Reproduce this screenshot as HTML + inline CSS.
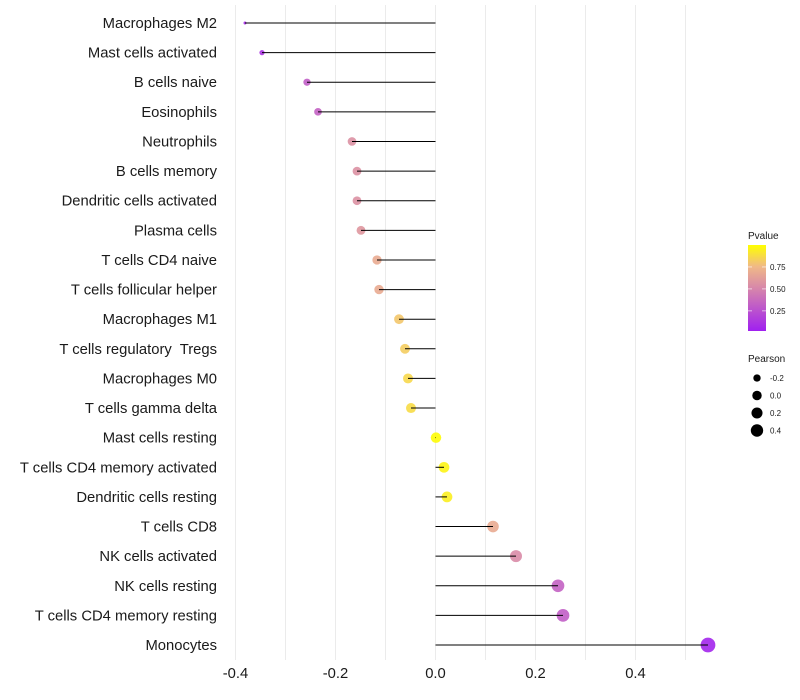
<!DOCTYPE html>
<html><head><meta charset="utf-8"><style>
html,body{margin:0;padding:0;background:#fff;}
svg{display:block;font-family:"Liberation Sans",Arial,sans-serif;}
</style></head><body>
<svg id="chart" width="800" height="700">
<g id="grid"></g>
<g id="marks"></g>
<g id="ylabels"></g>
<g id="xlabels"></g>
<g id="legend"></g>
</svg>
<script>
const categories = ["Macrophages M2","Mast cells activated","B cells naive","Eosinophils","Neutrophils","B cells memory","Dendritic cells activated","Plasma cells","T cells CD4 naive","T cells follicular helper","Macrophages M1","T cells regulatory  Tregs","Macrophages M0","T cells gamma delta","Mast cells resting","T cells CD4 memory activated","Dendritic cells resting","T cells CD8","NK cells activated","NK cells resting","T cells CD4 memory resting","Monocytes"];
const pearson = [-0.381,-0.347,-0.257,-0.235,-0.167,-0.157,-0.157,-0.149,-0.117,-0.113,-0.073,-0.061,-0.055,-0.049,0.001,0.017,0.023,0.115,0.161,0.245,0.255,0.545];
const pvalue = [0.05,0.1,0.3,0.32,0.55,0.55,0.55,0.58,0.68,0.68,0.8,0.82,0.86,0.87,0.99,0.96,0.94,0.68,0.52,0.32,0.3,0.03];
const xTicks = [-0.4,-0.2,0.0,0.2,0.4];
const xTickLabels = ["-0.4","-0.2","0.0","0.2","0.4"];
const gridVals = [-0.4,-0.3,-0.2,-0.1,0,0.1,0.2,0.3,0.4,0.5];
const legendP = [0.25,0.5,0.75];
const legendSizes = [-0.2,0.0,0.2,0.4];

const NS="http://www.w3.org/2000/svg";
const x = v => 435.5 + v*500;
const y = i => 23 + i*(622/21);
const rad = v => 1.5 + 6.1*Math.sqrt(Math.max(0, v+0.38));
const stops=[[0,[160,32,240]],[0.5,[215,135,170]],[0.75,[240,185,135]],[1,[255,255,0]]];
function col(p){for(let k=1;k<stops.length;k++){if(p<=stops[k][0]||k==stops.length-1){const [p0,a]=stops[k-1],[p1,b]=stops[k];const t=Math.min(1,Math.max(0,(p-p0)/(p1-p0)));return `rgb(${a.map((c,j)=>Math.round(c+(b[j]-c)*t)).join(",")})`;}}}
function mk(t,attrs,parent){const e=document.createElementNS(NS,t);for(const k in attrs)e.setAttribute(k,attrs[k]);parent.appendChild(e);return e;}
const grid=document.getElementById('grid'),marks=document.getElementById('marks'),yl=document.getElementById('ylabels'),xl=document.getElementById('xlabels'),lg=document.getElementById('legend');
gridVals.forEach(v=>{const l=mk('line',{x1:x(v),x2:x(v),y1:5,y2:660,stroke:'#ebebeb','stroke-width':1},grid);

});
categories.forEach((c,i)=>{
 const cy=y(i);
 const pt=mk('circle',{cx:x(pearson[i]),cy:cy,r:rad(pearson[i]),fill:col(pvalue[i]),'fill-opacity':0.9},marks);
 
 
 const sg=mk('line',{x1:x(0),x2:x(pearson[i]),y1:cy,y2:cy,stroke:'#000','stroke-width':1},marks);
 
 
 const t=mk('text',{x:217,y:cy+5,'text-anchor':'end','font-size':14.8,fill:'#1a1a1a','xml:space':'preserve'},yl);
 t.style.whiteSpace='pre';
 t.textContent=c;
 
 
});
xTicks.forEach((v,i)=>{const t=mk('text',{x:x(v),y:678,'text-anchor':'middle','font-size':14.8,fill:'#1a1a1a'},xl);
 t.textContent=xTickLabels[i];
 
 });
const defs=mk('defs',{},lg);
const grad=mk('linearGradient',{id:'pg',x1:0,y1:1,x2:0,y2:0},defs);
stops.forEach(s=>mk('stop',{offset:(s[0]*100)+'%','stop-color':`rgb(${s[1].join(',')})`},grad));
const lt=mk('text',{x:748,y:239,'font-size':10,fill:'#1a1a1a'},lg);lt.textContent='Pvalue';


const bar=mk('rect',{x:748,y:245,width:18,height:86,fill:'url(#pg)'},lg);


const pv=p=>245+86*(1-(p-0.02)/0.98);
legendP.forEach(p=>{mk('line',{x1:748,x2:752,y1:pv(p),y2:pv(p),stroke:'#fff','stroke-opacity':0.6},lg);mk('line',{x1:762,x2:766,y1:pv(p),y2:pv(p),stroke:'#fff','stroke-opacity':0.6},lg);
 const t=mk('text',{x:770,y:pv(p)+3,'font-size':8,fill:'#1a1a1a'},lg);t.textContent=p.toFixed(2);
 
 });
const st=mk('text',{x:748,y:362,'font-size':10,fill:'#1a1a1a'},lg);st.textContent='Pearson';


legendSizes.forEach((s,i)=>{const cy=378+i*17.5;
 const c=mk('circle',{cx:757,cy:cy,r:rad(s)*0.9,fill:'#000'},lg);
 
 
 const t=mk('text',{x:770,y:cy+3,'font-size':8,fill:'#1a1a1a'},lg);t.textContent=s.toFixed(1);
 
 });
</script>
</body></html>
